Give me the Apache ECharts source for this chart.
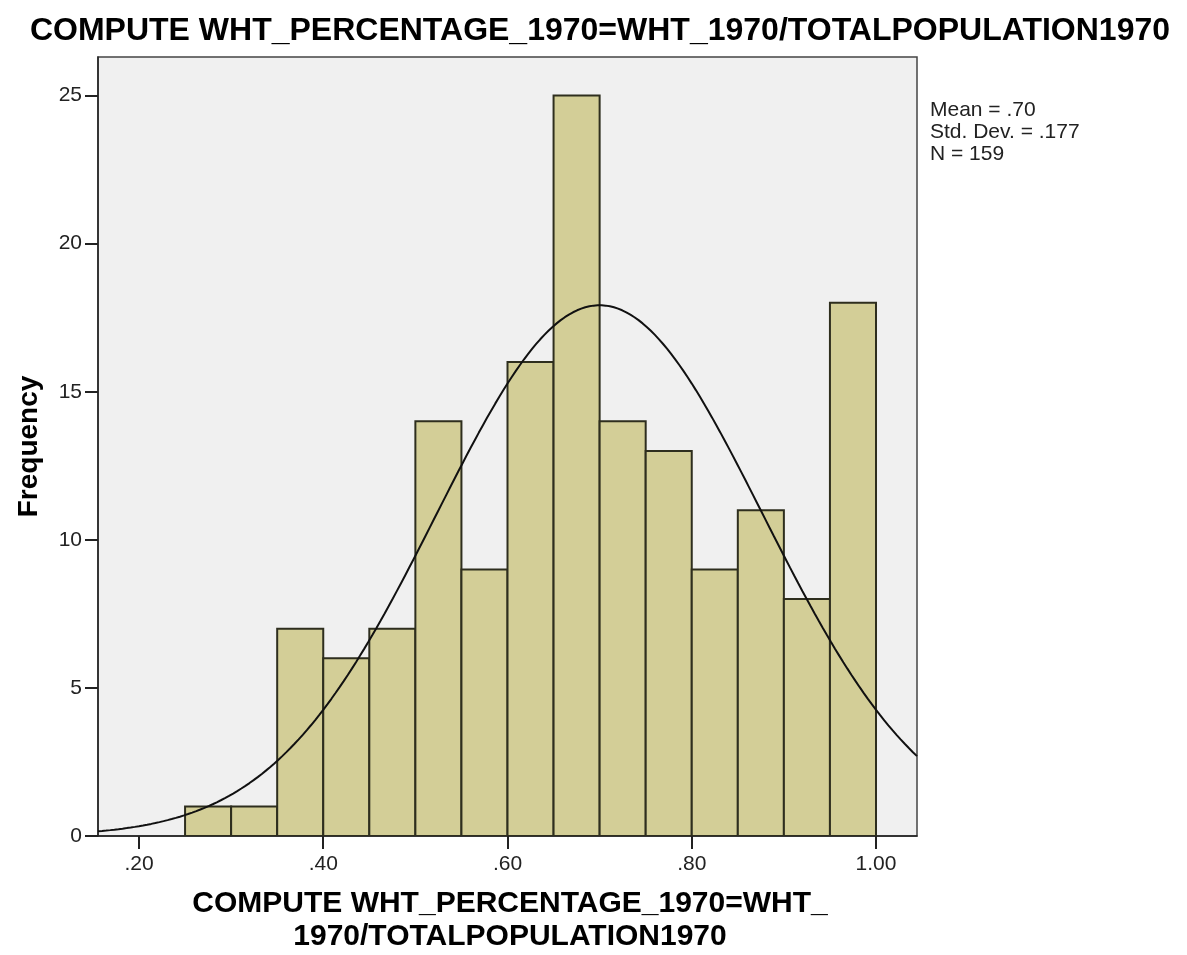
<!DOCTYPE html>
<html>
<head>
<meta charset="utf-8">
<script src="https://cdn.jsdelivr.net/npm/echarts@6/dist/echarts.min.js"></script>
<style>
  html, body { margin: 0; padding: 0; background: #ffffff; }
  #chart { width: 1187px; height: 955px; }
</style>
</head>
<body>
<div id="chart"></div>
<script>
// Histogram bins (lower edge) and frequencies
const binStarts = [0.25, 0.30, 0.35, 0.40, 0.45, 0.50, 0.55, 0.60, 0.65, 0.70, 0.75, 0.80, 0.85, 0.90, 0.95];
const binWidth = 0.05;
const frequencies = [1, 1, 7, 6, 7, 14, 9, 16, 25, 14, 13, 9, 11, 8, 18];

// Summary statistics shown beside the plot
const statMean = 0.70;
const statStdDev = 0.177;
const statN = 159;
const statLines = ['Mean = .70', 'Std. Dev. = .177', 'N = 159'];

const xTicks = [0.2, 0.4, 0.6, 0.8, 1.0];
const yTicks = [0, 5, 10, 15, 20, 25];

const titleText = 'COMPUTE WHT_PERCENTAGE_1970=WHT_1970/TOTALPOPULATION1970';
const xAxisTitle = 'COMPUTE WHT_PERCENTAGE_1970=WHT_\n1970/TOTALPOPULATION1970';
const yAxisTitle = 'Frequency';

const xMin = 0.1555, xMax = 1.0445;

// Fitted normal curve, scaled to bin counts
const curvePoints = [];
const steps = 200;
for (let i = 0; i <= steps; i++) {
  const x = xMin + (xMax - xMin) * i / steps;
  const z = (x - statMean) / statStdDev;
  const y = statN * binWidth * Math.exp(-0.5 * z * z) / (statStdDev * Math.sqrt(2 * Math.PI));
  curvePoints.push([x, y]);
}

const barData = binStarts.map((s, i) => [s, s + binWidth, frequencies[i]]);

const chart = echarts.init(document.getElementById('chart'), null, { renderer: 'canvas' });

const font = '"Liberation Sans", Arial, sans-serif';

chart.setOption({
  animation: false,
  graphic: [{
    type: 'text',
    x: 600,
    y: 15,
    style: {
      text: titleText,
      fontFamily: font,
      fontWeight: 'bold',
      fontSize: 32,
      align: 'center',
      verticalAlign: 'top',
      fill: '#000'
    }
  }, {
    type: 'text',
    x: 930,
    y: 99,
    style: {
      text: statLines.join('\n'),
      fontFamily: font,
      fontSize: 21,
      lineHeight: 22,
      verticalAlign: 'top',
      fill: '#222'
    }
  }, {
    type: 'text',
    x: 510,
    y: 887,
    style: {
      text: xAxisTitle,
      fontFamily: font,
      fontWeight: 'bold',
      fontSize: 30,
      lineHeight: 33,
      align: 'center',
      verticalAlign: 'top',
      fill: '#000'
    }
  }],
  grid: {
    left: 98, right: 270, top: 57, bottom: 119,
    outerBoundsMode: 'none',
    containLabel: false,
    show: true,
    backgroundColor: '#f0f0f0',
    borderColor: '#444',
    borderWidth: 1.5
  },
  xAxis: {
    type: 'value',
    min: xMin,
    max: xMax,
    splitLine: { show: false },
    axisLine: { show: true, lineStyle: { color: '#222', width: 1.5 } },
    axisTick: {
      show: true, length: 13, inside: false,
      customValues: xTicks,
      lineStyle: { color: '#222', width: 2 }
    },
    axisLabel: {
      customValues: xTicks,
      margin: 18,
      fontFamily: font, fontSize: 21, color: '#222',
      formatter: v => {
        const s = v.toFixed(2);
        return s.startsWith('0') ? s.slice(1) : s;
      }
    }
  },
  yAxis: {
    type: 'value',
    min: 0,
    max: 26.3,
    name: yAxisTitle,
    nameLocation: 'middle',
    nameGap: 55,
    nameRotate: 90,
    nameTextStyle: { fontFamily: font, fontWeight: 'bold', fontSize: 28, color: '#000' },
    splitLine: { show: false },
    axisLine: { show: true, lineStyle: { color: '#222', width: 1.5 } },
    axisTick: {
      show: true, length: 13, inside: false,
      customValues: yTicks,
      lineStyle: { color: '#222', width: 2 }
    },
    axisLabel: {
      customValues: yTicks,
      margin: 16,
      fontFamily: font, fontSize: 21, color: '#222'
    }
  },
  series: [{
    type: 'custom',
    data: barData,
    encode: { x: [0, 1], y: 2 },
    clip: true,
    renderItem: (params, api) => {
      const p0 = api.coord([api.value(0), 0]);
      const p1 = api.coord([api.value(1), api.value(2)]);
      return {
        type: 'rect',
        shape: { x: p0[0], y: p1[1], width: p1[0] - p0[0], height: p0[1] - p1[1] },
        style: { fill: '#d3ce97', stroke: '#2e2e1e', lineWidth: 2 }
      };
    }
  }, {
    type: 'line',
    data: curvePoints,
    showSymbol: false,
    symbol: 'none',
    clip: true,
    lineStyle: { color: '#111', width: 2 },
    z: 5
  }]
});
</script>
</body>
</html>
